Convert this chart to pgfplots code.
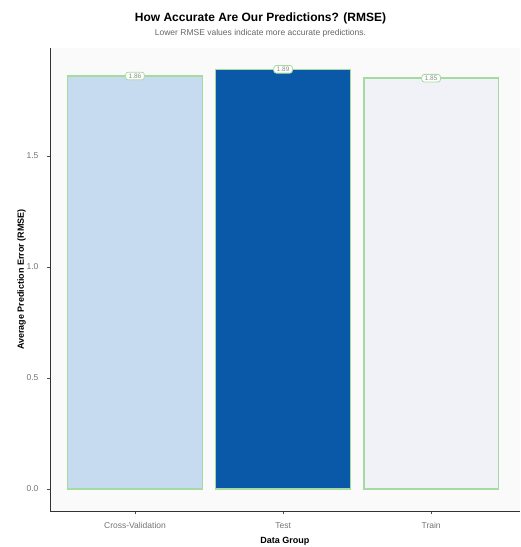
\documentclass[border=0pt]{standalone}
\usepackage{pgfplots}
\pgfplotsset{compat=1.18}
\usepackage{fontspec}
\setmainfont{Liberation Sans}
\definecolor{cvfill}{HTML}{C6DBEF}
\definecolor{testfill}{HTML}{0A58A8}
\definecolor{trainfill}{HTML}{F0F2F7}
\definecolor{edgegreen}{HTML}{A6DBA0}
\definecolor{panelbg}{HTML}{FAFAFA}
\begin{document}
\begin{tikzpicture}
\path[use as bounding box] (-50pt,-36pt) rectangle (471pt,511pt);
\begin{axis}[
  scale only axis,
  width=470pt, height=463pt,
  xmin=-0.574, xmax=2.60,
  ymin=-0.099, ymax=1.986,
  axis background/.style={fill=panelbg},
  axis lines*=left,
  axis line style={black!80, line width=0.6pt},
  xtick={0,1,2},
  xticklabels={Cross-Validation,Test,Train},
  ytick={0,0.5,1,1.5},
  yticklabels={0.0,0.5,1.0,1.5},
  tick style={black!70, line width=0.5pt},
  tick align=outside,
  major tick length=3pt,
  ticklabel style={font=\fontsize{8.5}{10}\selectfont, text=black!55},
  xticklabel style={yshift=-5pt},
  yticklabel style={xshift=-5pt},
  xlabel={\bfseries Data Group},
  ylabel={\bfseries Average Prediction Error (RMSE)},
  label style={font=\fontsize{9}{10}\selectfont},
  xlabel style={yshift=-2pt},
  ylabel style={yshift=-6pt},
  ybar, bar width=0.91, bar shift=0pt,
  nodes near coords,
  point meta=explicit symbolic,
  every node near coord/.append style={anchor=center, font=\fontsize{6.5}{7}\selectfont, text=black!45, fill=white, draw=edgegreen, rounded corners=2.5pt, inner xsep=3pt, inner ysep=1.5pt, line width=0.8pt},
  clip=false,
]
\addplot[fill=cvfill, draw=edgegreen, line width=1.6pt] coordinates {(0,1.86) [1.86]};
\addplot[fill=testfill, draw=edgegreen, line width=1.6pt] coordinates {(1,1.89) [1.89]};
\addplot[fill=trainfill, draw=edgegreen, line width=1.6pt] coordinates {(2,1.85) [1.85]};
\end{axis}
\node[font=\fontsize{12}{14}\selectfont\bfseries] at (210.5pt,493pt) {How Accurate Are Our Predictions? (RMSE)};
\node[font=\fontsize{8.5}{10}\selectfont, text=black!60] at (210.5pt,478pt) {Lower RMSE values indicate more accurate predictions.};
\end{tikzpicture}
\end{document}
